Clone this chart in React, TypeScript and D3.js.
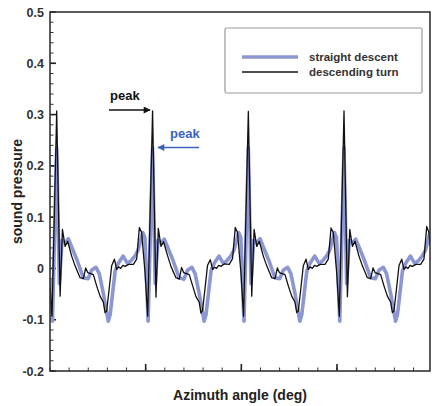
import { useRef, useEffect } from "react";
import * as d3 from "d3";

// azimuth angle (deg) of each sample, straight descent
const straightAngle = [
  0, 2.3, 6.3, 8.8, 11.3, 14.3, 17.3, 19.8, 25.1, 31.3, 35.8, 39.3, 43.3, 46.3, 50.3, 52.8, 54.8, 56.6, 58.8, 61.3, 64.3, 68.8, 72.8, 76.3, 79.8, 82.8, 87.3, 89.3, 92.3,
  96.5, 99, 101.5, 104.5, 107.5, 110, 115.3, 121.5, 126, 129.5, 133.5, 136.5, 140.5, 143, 145, 146.8, 149, 151.5, 154.5, 159, 163, 166.5, 170, 173, 177.5, 179.5, 182.5,
  186.6, 189.1, 191.6, 194.6, 197.6, 200.1, 205.4, 211.6, 216.1, 219.6, 223.6, 226.6, 230.6, 233.1, 235.1, 236.9, 239.1, 241.6, 244.6, 249.1, 253.1, 256.6, 260.1, 263.1, 267.6, 269.6, 272.6,
  276.6, 279.1, 281.6, 284.6, 287.6, 290.1, 295.4, 301.6, 306.1, 309.6, 313.6, 316.6, 320.6, 323.1, 325.1, 326.9, 329.1, 331.6, 334.6, 339.1, 343.1, 346.6, 350.1, 353.1, 357.5,
];
const straightValue = [
  -0.02, -0.103, 0.235, -0.03, 0.055, 0.05, 0.058, 0.045, 0.018, -0.018, -0.02, -0.003, 0.002, -0.01, -0.05, -0.08, -0.103, -0.09, -0.05, -0.005, 0.01, 0.024, 0.01, 0.015, 0.024, 0.035, 0.07, 0.06, -0.103,
  0.235, -0.03, 0.055, 0.05, 0.057, 0.045, 0.018, -0.018, -0.021, -0.003, 0.002, -0.01, -0.05, -0.08, -0.103, -0.09, -0.05, -0.005, 0.01, 0.024, 0.01, 0.015, 0.024, 0.035, 0.07, 0.06, -0.103,
  0.235, -0.03, 0.055, 0.05, 0.058, 0.045, 0.018, -0.018, -0.02, -0.003, 0.002, -0.01, -0.05, -0.08, -0.103, -0.09, -0.05, -0.005, 0.01, 0.024, 0.01, 0.015, 0.024, 0.035, 0.07, 0.06, -0.103,
  0.235, -0.03, 0.055, 0.05, 0.057, 0.045, 0.018, -0.018, -0.02, -0.003, 0.002, -0.01, -0.05, -0.08, -0.103, -0.09, -0.05, -0.005, 0.01, 0.024, 0.01, 0.015, 0.024, 0.035, 0.07,
];

// descending turn
const turnAngle = [
  0, 1.9, 6.3, 9.5, 11.7, 14.2, 16.6, 20.4, 23.6, 28.3, 31.4, 33.6, 35.5, 40.8, 43.9, 47.1, 50.2, 51.8, 53.3, 55.6, 58, 60.6, 62.7, 64.5, 66.5, 68.5, 70.6, 74, 78.4, 81.5, 84.1, 86.2, 89.4, 91.9,
  96.5, 99.7, 101.9, 104.4, 106.8, 110.6, 113.8, 118.5, 121.6, 123.8, 125.7, 131, 134.1, 137.3, 140.4, 142, 143.5, 145.8, 148.2, 150.8, 152.9, 154.7, 156.7, 158.7, 160.8, 164.2, 168.6, 171.7, 174.3, 176.4, 179.6, 182.1,
  186.6, 189.8, 192, 194.5, 196.9, 200.7, 203.9, 208.6, 211.7, 213.9, 215.8, 221.1, 224.2, 227.4, 230.5, 232.1, 233.6, 235.9, 238.3, 240.9, 243, 244.8, 246.8, 248.8, 250.9, 254.3, 258.7, 261.8, 264.4, 266.5, 269.7, 272.2,
  276.6, 279.8, 282, 284.5, 286.9, 290.7, 293.9, 298.6, 301.7, 303.9, 305.8, 311.1, 314.2, 317.4, 320.5, 322.1, 323.6, 325.9, 328.3, 330.9, 333, 334.8, 336.8, 338.8, 340.9, 344.3, 348.7, 351.8, 354.4, 356.5, 357.5,
];
const turnValue = [
  -0.035, -0.093, 0.307, -0.054, 0.076, 0.043, 0.053, 0.024, 0.005, -0.018, -0.02, 0.001, -0.008, -0.012, -0.034, -0.054, -0.066, -0.086, -0.083, -0.041, 0.005, 0.018, -0.002, 0.003, 0, 0.006, 0.004, 0.008, 0.008, 0.018, 0.08, 0.07, -0.008, -0.093,
  0.307, -0.056, 0.078, 0.043, 0.052, 0.025, 0.004, -0.018, -0.021, 0.002, -0.008, -0.012, -0.033, -0.055, -0.066, -0.087, -0.082, -0.04, 0.006, 0.017, -0.002, 0.002, 0, 0.006, 0.004, 0.009, 0.008, 0.019, 0.08, 0.07, -0.008, -0.093,
  0.306, -0.054, 0.076, 0.043, 0.053, 0.024, 0.005, -0.018, -0.02, 0.001, -0.008, -0.012, -0.034, -0.054, -0.066, -0.086, -0.083, -0.041, 0.005, 0.018, -0.002, 0.003, 0, 0.006, 0.004, 0.008, 0.008, 0.018, 0.079, 0.07, -0.008, -0.093,
  0.307, -0.055, 0.076, 0.043, 0.053, 0.024, 0.005, -0.018, -0.02, 0.001, -0.008, -0.012, -0.034, -0.054, -0.066, -0.086, -0.083, -0.041, 0.005, 0.018, -0.002, 0.003, 0, 0.006, 0.004, 0.008, 0.008, 0.018, 0.082, 0.07, 0.045,
];

const yTicks = [-0.2, -0.1, 0, 0.1, 0.2, 0.3, 0.4, 0.5];
const yTickLabels = ["-0.2", "-0.1", "0", "0.1", "0.2", "0.3", "0.4", "0.5"];
const xMajorTicks = [90, 180, 270];
const seriesNames = ["straight descent", "descending turn"];

const W = 432;
const H = 406;
const margin = { left: 50, right: 2, top: 12, bottom: 35 };
const FONT = "'Liberation Sans', Arial, sans-serif";

const App = () => {
  const svgRef = useRef<SVGSVGElement | null>(null);

  useEffect(() => {
    if (!svgRef.current) return;
    const svg = d3.select(svgRef.current);
    svg.selectAll("*").remove();

    const x = d3.scaleLinear().domain([0, 357.5]).range([margin.left, W - margin.right]);
    const y = d3.scaleLinear().domain([-0.2, 0.5]).range([H - margin.bottom, margin.top]);

    const defs = svg.append("defs");
    const mk = (id: string, color: string) =>
      defs
        .append("marker")
        .attr("id", id)
        .attr("viewBox", "0 0 10 10")
        .attr("refX", 9)
        .attr("refY", 5)
        .attr("markerWidth", 9)
        .attr("markerHeight", 7)
        .attr("markerUnits", "userSpaceOnUse")
        .attr("orient", "auto")
        .append("path")
        .attr("d", "M0,0 L10,5 L0,10 z")
        .attr("fill", color);
    mk("arrBlack", "#111");
    mk("arrBlue", "#3b62c0");

    defs
      .append("clipPath")
      .attr("id", "plotClip")
      .append("rect")
      .attr("x", margin.left)
      .attr("y", margin.top)
      .attr("width", W - margin.left - margin.right)
      .attr("height", H - margin.top - margin.bottom);

    // y ticks: major every 0.1, minor every 0.02, inside
    const yMinor = d3.range(-0.2, 0.5001, 0.02);
    svg
      .append("g")
      .selectAll("line")
      .data(yMinor)
      .join("line")
      .attr("x1", margin.left)
      .attr("x2", margin.left + 3.5)
      .attr("y1", (d) => y(d))
      .attr("y2", (d) => y(d))
      .attr("stroke", "#333")
      .attr("stroke-width", 1);
    svg
      .append("g")
      .selectAll("line")
      .data(yTicks)
      .join("line")
      .attr("x1", margin.left)
      .attr("x2", margin.left + 6)
      .attr("y1", (d) => y(d))
      .attr("y2", (d) => y(d))
      .attr("stroke", "#222")
      .attr("stroke-width", 1.6);
    svg
      .append("g")
      .selectAll("text")
      .data(yTicks)
      .join("text")
      .attr("x", margin.left - 6)
      .attr("y", (d) => y(d) + 4.5)
      .attr("text-anchor", "end")
      .attr("font-family", FONT)
      .attr("font-size", 12.5)
      .attr("font-weight", "bold")
      .attr("fill", "#333")
      .text((d, i) => yTickLabels[i]);

    // x ticks
    const xMinor = d3.range(0, 357.5, 18);
    svg
      .append("g")
      .selectAll("line")
      .data(xMinor)
      .join("line")
      .attr("x1", (d) => x(d))
      .attr("x2", (d) => x(d))
      .attr("y1", y(-0.2))
      .attr("y2", y(-0.2) - 3.5)
      .attr("stroke", "#333")
      .attr("stroke-width", 1);
    svg
      .append("g")
      .selectAll("line")
      .data(xMajorTicks)
      .join("line")
      .attr("x1", (d) => x(d))
      .attr("x2", (d) => x(d))
      .attr("y1", y(-0.2))
      .attr("y2", y(-0.2) - 7)
      .attr("stroke", "#222")
      .attr("stroke-width", 1.6);

    // series
    const line = d3
      .line<[number, number]>()
      .x((d) => x(d[0]))
      .y((d) => y(d[1]));
    const plot = svg.append("g").attr("clip-path", "url(#plotClip)");
    plot
      .append("path")
      .datum(straightAngle.map((a, i) => [a, straightValue[i]] as [number, number]))
      .attr("d", line)
      .attr("fill", "none")
      .attr("stroke", "#8c96d2")
      .attr("stroke-width", 3.6)
      .attr("stroke-linejoin", "round");
    plot
      .append("path")
      .datum(turnAngle.map((a, i) => [a, turnValue[i]] as [number, number]))
      .attr("d", line)
      .attr("fill", "none")
      .attr("stroke", "#111")
      .attr("stroke-width", 1.3)
      .attr("stroke-linejoin", "round");

    // frame
    svg
      .append("rect")
      .attr("x", margin.left)
      .attr("y", margin.top)
      .attr("width", W - margin.left - margin.right)
      .attr("height", H - margin.top - margin.bottom)
      .attr("fill", "none")
      .attr("stroke", "#333")
      .attr("stroke-width", 1.6);

    // axis titles
    svg
      .append("text")
      .attr("x", 240)
      .attr("y", 400)
      .attr("text-anchor", "middle")
      .attr("font-family", FONT)
      .attr("font-size", 14)
      .attr("font-weight", "bold")
      .attr("fill", "#222")
      .text("Azimuth angle (deg)");
    svg
      .append("text")
      .attr("transform", `translate(22,${y(0.15)}) rotate(-90)`)
      .attr("text-anchor", "middle")
      .attr("font-family", FONT)
      .attr("font-size", 14)
      .attr("font-weight", "bold")
      .attr("fill", "#222")
      .text("sound pressure");

    // legend
    const lg = svg.append("g");
    lg.append("rect")
      .attr("x", 225)
      .attr("y", 28)
      .attr("width", 197)
      .attr("height", 65)
      .attr("rx", 1.5)
      .attr("fill", "#fff")
      .attr("stroke", "#999")
      .attr("stroke-width", 1.2);
    const legendColors = ["#8c96d2", "#111"];
    const legendWidths = [3.6, 1.3];
    seriesNames.forEach((name, i) => {
      const ly = 57 + i * 15;
      lg.append("line")
        .attr("x1", 242)
        .attr("x2", 298)
        .attr("y1", ly)
        .attr("y2", ly)
        .attr("stroke", legendColors[i])
        .attr("stroke-width", legendWidths[i]);
      lg.append("text")
        .attr("x", 309)
        .attr("y", ly + 4)
        .attr("font-family", FONT)
        .attr("font-size", 11.5)
        .attr("font-weight", "bold")
        .attr("fill", "#333")
        .text(name);
    });

    // peak annotations
    svg
      .append("text")
      .attr("x", 110)
      .attr("y", 100)
      .attr("font-family", FONT)
      .attr("font-size", 13)
      .attr("font-weight", "bold")
      .attr("fill", "#111")
      .text("peak");
    svg
      .append("line")
      .attr("x1", 109)
      .attr("x2", 150)
      .attr("y1", 110)
      .attr("y2", 110)
      .attr("stroke", "#111")
      .attr("stroke-width", 1.4)
      .attr("marker-end", "url(#arrBlack)");
    svg
      .append("text")
      .attr("x", 170)
      .attr("y", 138)
      .attr("font-family", FONT)
      .attr("font-size", 13)
      .attr("font-weight", "bold")
      .attr("fill", "#3b62c0")
      .text("peak");
    svg
      .append("line")
      .attr("x1", 199)
      .attr("x2", 158)
      .attr("y1", 147.5)
      .attr("y2", 147.5)
      .attr("stroke", "#3b62c0")
      .attr("stroke-width", 1.4)
      .attr("marker-end", "url(#arrBlue)");
  }, []);

  return (
    <svg
      ref={svgRef}
      width={W}
      height={H}
      style={{ position: "absolute", left: 0, top: 0, background: "#fff" }}
    ></svg>
  );
};

export default App;
